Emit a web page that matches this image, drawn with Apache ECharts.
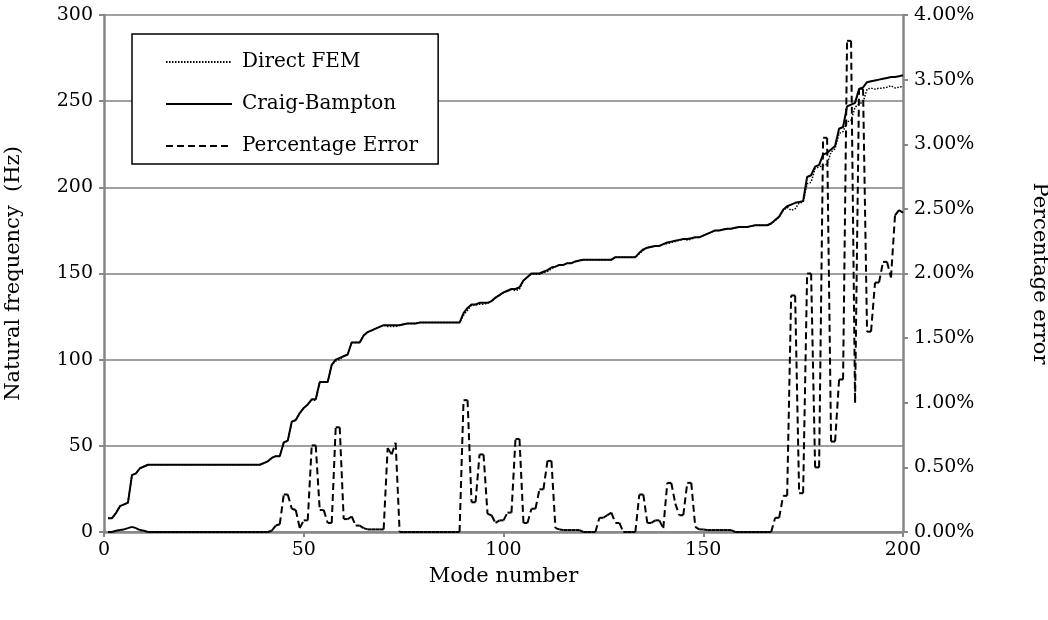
<!DOCTYPE html>
<html>
<head>
<meta charset="utf-8">
<script src="https://cdn.jsdelivr.net/npm/echarts@6/dist/echarts.min.js"></script>
<style>html,body{margin:0;padding:0;background:#fff}#c{width:1048px;height:620px}</style>
</head>
<body>
<div id="c"></div>
<script>
// Mode numbers 1..200
const modes = Array.from({length: 200}, (_, i) => i + 1);

// Craig-Bampton natural frequency (Hz), modes 1..200
const craigBampton = [
  8, 8, 11, 15, 16, 17, 33, 34, 37, 38, 39,
  39, 39, 39, 39, 39, 39, 39, 39, 39, 39, 39, 39, 39, 39, 39, 39, 39, 39, 39, 39, 39, 39, 39, 39, 39, 39, 39, 39,
  40, 41, 43, 44, 44, 52, 53, 64, 65, 69, 72, 74, 77, 77, 87, 87, 87, 97, 100, 101, 102, 103, 110, 110, 110, 114,
  116, 117, 118, 119, 120, 120, 120, 120, 120, 120.5, 121, 121, 121, 121.5,
  121.5, 121.5, 121.5, 121.5, 121.5, 121.5, 121.5, 121.5, 121.5, 121.5,
  127, 130, 132, 132, 133, 133, 133, 134, 136, 137.5, 139, 140, 141, 141, 142, 146, 148, 150, 150, 150,
  151, 152, 153.5, 154, 155, 155, 156, 156, 157, 157.5, 158,
  158, 158, 158, 158, 158, 158, 158,
  159.5, 159.5, 159.5, 159.5, 159.5, 159.5,
  162, 164, 165, 165.5, 166, 166, 167, 168, 168.5, 169, 169.5, 170, 170, 170.5, 171, 171, 172, 173, 174, 175,
  175, 175.5, 176, 176, 176.5, 177, 177, 177, 177.5, 178, 178, 178, 178, 179, 181, 183, 187, 189, 190, 191,
  191.5, 192, 206, 207, 212, 213, 219, 220, 222, 224, 234, 235, 247, 248, 249, 257, 258, 261, 261.5, 262,
  262.5, 263, 263.5, 264, 264, 264.5, 265
];

// Direct FEM natural frequency (Hz), modes 1..200
const directFEM = [
  8, 8, 11, 15, 16, 17, 33, 34, 37, 38, 39,
  39, 39, 39, 39, 39, 39, 39, 39, 39, 39, 39, 39, 39, 39, 39, 39, 39, 39, 39, 39, 39, 39, 39, 39, 39, 39, 39, 39,
  40, 41, 43, 44, 44, 51.8, 52.8, 63.9, 64.9, 69, 72, 74, 76.5, 76.5, 86.9, 86.9, 87, 97, 99.2, 100.2, 102, 103, 110, 110, 110, 114,
  116, 117, 118, 119, 120, 119.2, 119.3, 119.2, 120, 120.5, 121, 121, 121, 121.5,
  121.5, 121.5, 121.5, 121.5, 121.5, 121.5, 121.5, 121.5, 121.5, 121.5,
  125.7, 128.7, 131.7, 131.7, 132.2, 132.2, 132.8, 133.8, 135.9, 137.4, 138.9, 139.8, 140.8, 140, 141, 145.9, 147.9, 149.7, 149.7, 149.5,
  150.5, 151.2, 152.7, 154, 155, 155, 156, 156, 157, 157.5, 158,
  158, 158, 158, 157.8, 157.8, 157.8, 157.8,
  159.4, 159.4, 159.5, 159.5, 159.5, 159.5,
  161.5, 163.5, 164.9, 165.4, 165.9, 165.9, 167, 167.4, 167.9, 168.6, 169.3, 169.8, 169.4, 169.9, 170.9, 171, 172, 173, 174, 175,
  175, 175.5, 176, 176, 176.5, 177, 177, 177, 177.5, 178, 178, 178, 178, 179, 180.8, 182.8, 186.5, 188.5, 186.6, 187.6,
  190.9, 191.4, 202, 202.9, 210.9, 211.9, 212.5, 213.5, 220.5, 222.4, 231.3, 232.3, 238, 238.9, 246.5, 248.5, 249.4, 257, 257.5, 257,
  257.5, 257.6, 258.1, 258.9, 257.7, 258.1, 258.6
];

// Percentage error (%), modes 1..200
const percentError = [
  0, 0, 0.01, 0.015, 0.02, 0.03, 0.04, 0.03, 0.015, 0.01, 0,
  0, 0, 0, 0, 0, 0, 0, 0, 0, 0, 0, 0, 0, 0, 0, 0, 0, 0, 0, 0, 0, 0, 0, 0, 0, 0, 0, 0, 0, 0,
  0.01, 0.05, 0.06, 0.29, 0.29, 0.18, 0.17, 0.03, 0.09, 0.09, 0.67, 0.67, 0.17, 0.17, 0.07, 0.07, 0.81, 0.81, 0.1, 0.1,
  0.12, 0.05, 0.05, 0.03, 0.02, 0.02, 0.02, 0.02, 0.02, 0.65, 0.6, 0.69,
  0,
  0, 0, 0, 0, 0, 0, 0, 0, 0, 0, 0, 0, 0, 0, 0,
  1.02, 1.02, 0.23, 0.23, 0.6, 0.6, 0.14, 0.13, 0.07, 0.09, 0.09, 0.15, 0.15, 0.72, 0.72, 0.07, 0.07, 0.18, 0.18, 0.33,
  0.33, 0.55, 0.55, 0.03, 0.02,
  0.015, 0.015, 0.015, 0.015, 0.015,
  0, 0, 0, 0,
  0.11, 0.11, 0.13, 0.15, 0.07, 0.07,
  0, 0, 0, 0,
  0.29, 0.29, 0.07, 0.07, 0.09, 0.09, 0.03, 0.38, 0.38, 0.22, 0.13, 0.13, 0.38, 0.38, 0.04, 0.02, 0.02,
  0.015, 0.015, 0.015, 0.015, 0.015, 0.015, 0.015,
  0, 0, 0, 0, 0, 0, 0, 0, 0, 0,
  0.11, 0.11, 0.28, 0.28, 1.83, 1.83, 0.3, 0.3, 2.0, 2.0, 0.5, 0.5, 3.05, 3.05, 0.7, 0.7, 1.18, 1.18, 3.8, 3.8,
  1.0, 3.43, 3.43, 1.55, 1.55, 1.93, 1.93, 2.09, 2.09, 1.97, 2.45, 2.49, 2.47
];

const seriesNames = ['Direct FEM', 'Craig-Bampton', 'Percentage Error'];

const FONT = 'DejaVu Serif';
const TICK_SIZE = 19;
const TITLE_SIZE = 21;
const AXIS_GRAY = '#868686';
const GRID_GRAY = '#a0a0a0';
const ERR_DASH = [7, 4];

// segments of the error line (dash pattern restarts on each segment, as in the source)
const errSegments = [];
for (let i = 0; i < modes.length - 1; i++) {
  errSegments.push([modes[i], percentError[i], modes[i + 1], percentError[i + 1]]);
}

const chart = echarts.init(document.getElementById('c'), null, {renderer: 'canvas'});
chart.setOption({
  animation: false,
  backgroundColor: '#ffffff',
  textStyle: {fontFamily: FONT, color: '#000'},
  grid: {left: 104, right: 145, top: 15, bottom: 88, containLabel: false, outerBoundsMode: 'none'},
  legend: {
    orient: 'vertical',
    left: 132, top: 34,
    selectedMode: false,
    backgroundColor: '#ffffff',
    borderColor: '#000000',
    borderWidth: 1.5,
    borderRadius: 0,
    padding: [18, 20, 8, 33],
    itemGap: 22,
    itemWidth: 66,
    itemHeight: 4,
    itemStyle: {opacity: 0},
    textStyle: {fontFamily: FONT, fontSize: 20, color: '#000', padding: [0, 0, 0, 5]},
    data: seriesNames
  },
  xAxis: {
    type: 'value', min: 0, max: 200, interval: 50,
    name: 'Mode number', nameLocation: 'middle', nameGap: 34,
    nameTextStyle: {fontFamily: FONT, fontSize: TITLE_SIZE, color: '#000'},
    axisLine: {show: true, onZero: false, lineStyle: {color: AXIS_GRAY, width: 2.5}},
    axisTick: {show: true, length: 5, lineStyle: {color: AXIS_GRAY, width: 2}},
    axisLabel: {fontFamily: FONT, fontSize: TICK_SIZE, color: '#000', margin: 9},
    splitLine: {show: false}
  },
  yAxis: [
    {
      type: 'value', min: 0, max: 300, interval: 50, position: 'left',
      name: 'Natural frequency  (Hz)', nameLocation: 'middle', nameGap: 80, nameRotate: 90,
      nameTextStyle: {fontFamily: FONT, fontSize: TITLE_SIZE, color: '#000'},
      axisLine: {show: true, lineStyle: {color: AXIS_GRAY, width: 2.5}},
      axisTick: {show: true, length: 5, lineStyle: {color: AXIS_GRAY, width: 2}},
      axisLabel: {fontFamily: FONT, fontSize: TICK_SIZE, color: '#000', margin: 11},
      splitLine: {show: true, lineStyle: {color: GRID_GRAY, width: 2}}
    },
    {
      type: 'value', min: 0, max: 4, interval: 0.5, position: 'right',
      name: 'Percentage error', nameLocation: 'middle', nameGap: 126, nameRotate: -90,
      nameTextStyle: {fontFamily: FONT, fontSize: TITLE_SIZE, color: '#000'},
      axisLine: {show: true, lineStyle: {color: AXIS_GRAY, width: 2.5}},
      axisTick: {show: true, length: 5, lineStyle: {color: AXIS_GRAY, width: 2}},
      axisLabel: {fontFamily: FONT, fontSize: TICK_SIZE, color: '#000', margin: 11,
        formatter: v => v.toFixed(2) + '%'},
      splitLine: {show: false}
    }
  ],
  series: [
    {
      name: seriesNames[0], type: 'line', yAxisIndex: 0, symbol: 'none',
      data: modes.map((m, i) => [m, directFEM[i]]),
      lineStyle: {color: '#000', width: 1.5, type: [1.5, 1.5]},
      itemStyle: {color: '#000'}, z: 2
    },
    {
      name: seriesNames[1], type: 'line', yAxisIndex: 0, symbol: 'none',
      data: modes.map((m, i) => [m, craigBampton[i]]),
      lineStyle: {color: '#000', width: 2, type: 'solid'},
      itemStyle: {color: '#000'}, z: 3
    },
    {
      // legend entry for the error line
      name: seriesNames[2], type: 'line', yAxisIndex: 1, symbol: 'none',
      data: [],
      lineStyle: {color: '#000', width: 2, type: ERR_DASH},
      itemStyle: {color: '#000'}, z: 4
    },
    {
      name: 'errSegments', type: 'custom', yAxisIndex: 1, z: 4,
      encode: {x: [0, 2], y: [1, 3]},
      data: errSegments,
      renderItem: (params, api) => {
        const p1 = api.coord([api.value(0), api.value(1)]);
        const p2 = api.coord([api.value(2), api.value(3)]);
        return {
          type: 'line',
          shape: {x1: p1[0], y1: p1[1], x2: p2[0], y2: p2[1]},
          style: {stroke: '#000', lineWidth: 2, lineDash: ERR_DASH, fill: null}
        };
      }
    }
  ]
});
</script>
</body>
</html>
